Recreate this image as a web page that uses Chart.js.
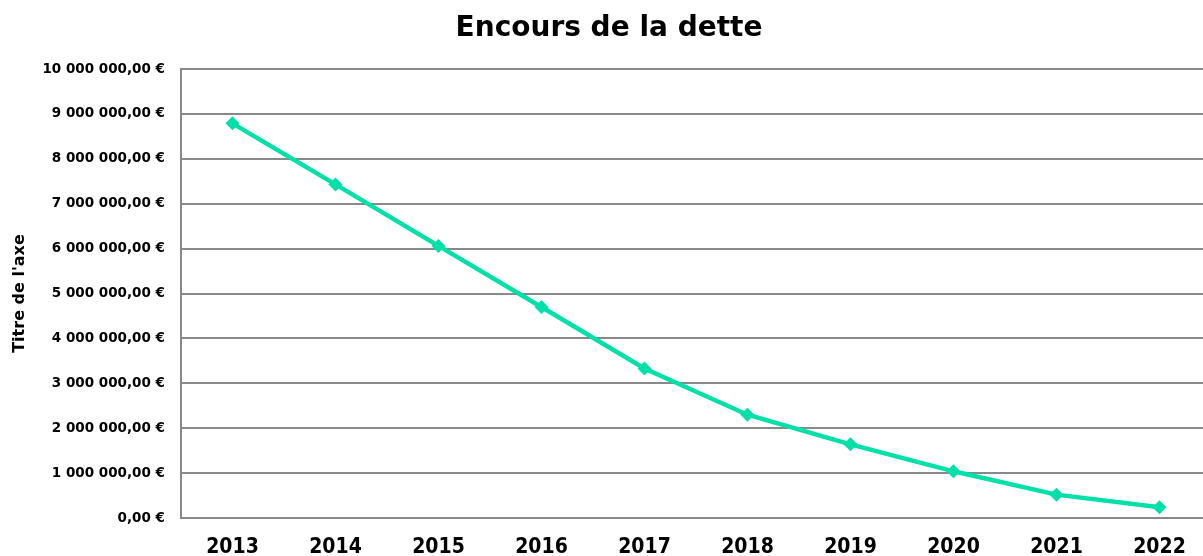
<!DOCTYPE html>
<html>
<head>
<meta charset="utf-8">
<script src="https://cdn.jsdelivr.net/npm/chart.js@4.4.0/dist/chart.umd.min.js"></script>
<style>
  html, body { margin: 0; padding: 0; background: #fff; overflow: hidden; }
  #wrap { width: 1218px; height: 556px; }
</style>
</head>
<body>
<div id="wrap"><canvas id="chart"></canvas></div>
<script>
const years = ['2013', '2014', '2015', '2016', '2017', '2018', '2019', '2020', '2021', '2022'];
const encours = [8790000, 7430000, 6060000, 4700000, 3330000, 2300000, 1640000, 1040000, 520000, 240000];

const formatEuro = (v) => {
  const int = Math.round(v).toString().replace(/\B(?=(\d{3})+(?!\d))/g, ' ');
  return int + ',00 €';
};

const gray = '#898989';
const green = '#00E0A8';

new Chart(document.getElementById('chart'), {
  type: 'line',
  data: {
    labels: years,
    datasets: [{
      label: 'Encours',
      data: encours,
      borderColor: green,
      backgroundColor: green,
      borderWidth: 4.5,
      pointStyle: 'rectRot',
      pointRadius: 7,
      pointBorderWidth: 0,
      tension: 0,
      fill: false,
    }],
  },
  options: {
    responsive: true,
    maintainAspectRatio: false,
    animation: false,
    layout: { padding: 0 },
    plugins: {
      legend: { display: false },
      tooltip: { enabled: false },
      title: {
        display: true,
        text: 'Encours de la dette',
        color: '#000',
        font: { family: 'DejaVu Sans', size: 28, weight: 'bold', lineHeight: 1.2 },
        padding: { top: 12, bottom: 23.4 },
      },
    },
    scales: {
      x: {
        offset: true,
        grid: { display: false, drawTicks: false, offset: false },
        border: { color: gray, width: 2 },
        ticks: {
          color: '#000',
          padding: 17,
          font: { family: 'DejaVu Sans Condensed', size: 21, weight: 'bold' },
          maxRotation: 0,
        },
        afterFit: (scale) => { scale.height = 38; },
      },
      y: {
        min: 0,
        max: 10000000,
        grid: { color: gray, lineWidth: 2, drawTicks: false },
        border: { color: gray, width: 2 },
        ticks: {
          stepSize: 1000000,
          color: '#000',
          padding: 16,
          font: { family: 'DejaVu Sans', size: 13.5, weight: 'bold' },
          callback: (v) => formatEuro(v),
        },
        title: {
          display: true,
          text: "Titre de l'axe",
          color: '#000',
          font: { family: 'DejaVu Sans', size: 16, weight: 'bold' },
          padding: { top: 10, bottom: 0 },
        },
        afterFit: (scale) => { scale.width = 181; },
      },
    },
  },
});
</script>
</body>
</html>
